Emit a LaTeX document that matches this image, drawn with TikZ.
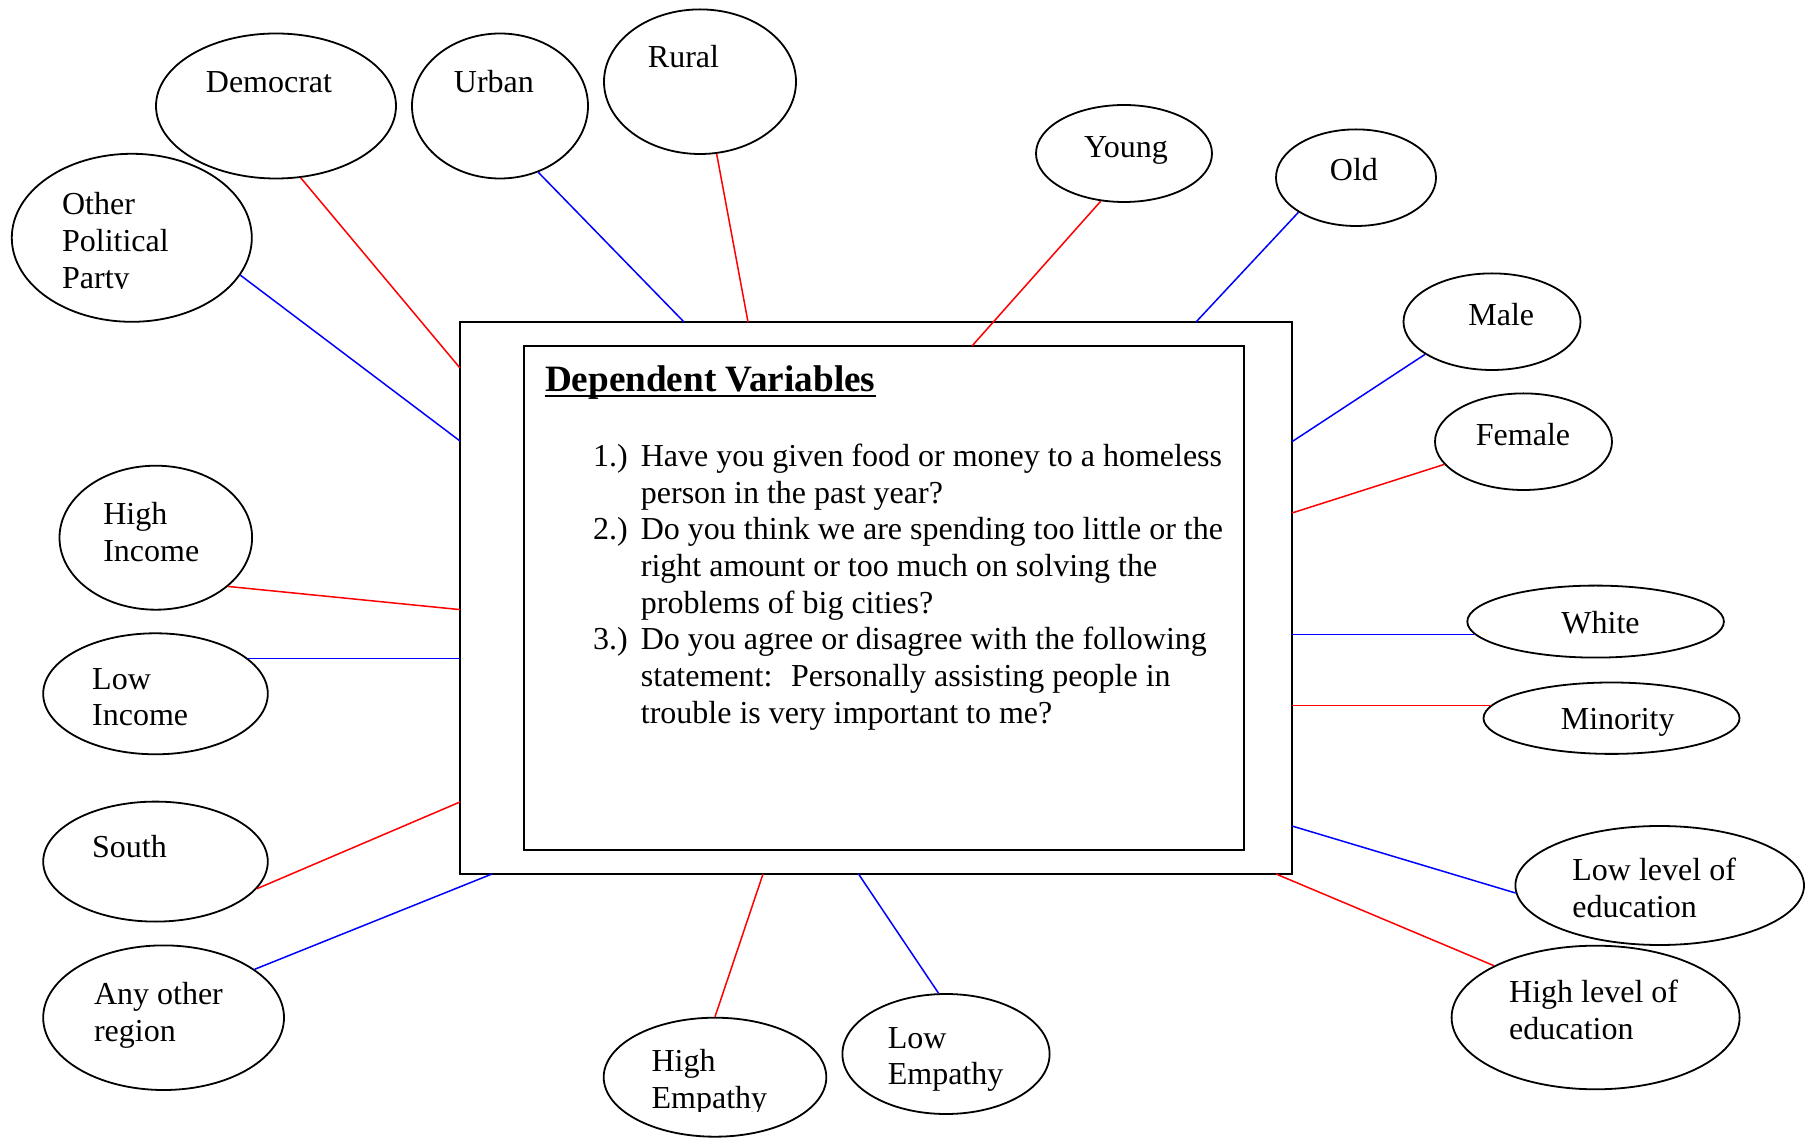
\documentclass[tikz,border=0pt]{standalone}
\usepackage{fontspec}
\setmainfont{Liberation Serif}
\usetikzlibrary{shapes.geometric}
\begin{document}
\begin{tikzpicture}[x=0.5pt,y=-0.5pt,
  oval/.style={draw, ellipse, line width=0.9pt, inner sep=0pt},
  lbl/.style={anchor=base west, inner sep=0pt, font=\fontsize{16}{18.3}\selectfont},
  redline/.style={draw=red, line width=0.75pt},
  blueline/.style={draw=blue, line width=0.75pt},
  box/.style={draw, inner sep=0pt}]
\useasboundingbox (0,0) rectangle (1811,1138);

% central boxes
\node[box, line width=0.9pt, minimum width=416pt, minimum height=276pt] (outer) at (876,598) {};
\node[box, line width=1.2pt, minimum width=360pt, minimum height=252pt] (inner) at (884,598) {};

\node[anchor=base west, inner sep=0pt, font=\fontsize{18.6}{20}\selectfont\bfseries] (title) at (544.6,391.4) {Dependent Variables};
\draw[line width=1pt] ([yshift=-2.2pt]title.base west) -- ([yshift=-2.2pt]title.base east);

\node[lbl, font=\fontsize{16}{18.35}\selectfont] (qs) at (592.8,466.4) {\vtop{%
\hbox{\hbox to 23.85pt{1.)\hss}Have you given food or money to a homeless}
\hbox{\hskip 23.85pt person in the past year?}
\hbox{\hbox to 23.85pt{2.)\hss}Do you think we are spending too little or the}
\hbox{\hskip 23.85pt right amount or too much on solving the}
\hbox{\hskip 23.85pt problems of big cities?}
\hbox{\hbox to 23.85pt{3.)\hss}Do you agree or disagree with the following}
\hbox{\hskip 23.85pt statement:\hspace{4pt} Personally assisting people in}
\hbox{\hskip 23.85pt trouble is very important to me?}}};

% ellipses
\node[oval, minimum width=120pt, minimum height=72.5pt] (dem) at (276,106) {};
\node[oval, minimum width=88pt, minimum height=72.5pt] (urban) at (500,106) {};
\node[oval, minimum width=96pt, minimum height=72.3pt] (rural) at (700,81.7) {};
\node[oval, minimum width=120pt, minimum height=84pt] (other) at (131.8,237.8) {};
\node[oval, minimum width=88pt, minimum height=48.5pt] (young) at (1124,153.5) {};
\node[oval, minimum width=80pt, minimum height=48.3pt] (old) at (1356,177.7) {};
\node[oval, minimum width=88.5pt, minimum height=48.3pt] (male) at (1492,321.7) {};
\node[oval, minimum width=88.5pt, minimum height=48.3pt] (female) at (1523.5,441.7) {};
\node[oval, minimum width=96.3pt, minimum height=72pt] (hinc) at (155.8,537.7) {};
\node[oval, minimum width=112.3pt, minimum height=60.5pt] (linc) at (155.5,693.8) {};
\node[oval, minimum width=112.3pt, minimum height=60pt] (south) at (155.5,861.6) {};
\node[oval, minimum width=120.4pt, minimum height=72.3pt] (anyreg) at (163.6,1017.7) {};
\node[oval, minimum width=128.3pt, minimum height=36pt] (white) at (1595.6,621.6) {};
\node[oval, minimum width=128pt, minimum height=35.7pt] (minority) at (1611.5,718.2) {};
\node[oval, minimum width=144.3pt, minimum height=59.5pt] (lowedu) at (1659.7,885.5) {};
\node[oval, minimum width=144pt, minimum height=71.8pt] (highedu) at (1595.6,1017.5) {};
\node[oval, minimum width=111.3pt, minimum height=59.5pt] (hemp) at (715,1077.2) {};
\node[oval, minimum width=103.6pt, minimum height=60pt] (lemp) at (946,1054) {};

% labels
\node[lbl] (tdem) at (205.5,92.7) {Democrat};
\node[lbl] (turban) at (453.5,92.7) {Urban};
\node[lbl] (trural) at (647.5,67.7) {Rural};
\begin{scope}
\clip (0,150) rectangle (300,288.5);
\node[lbl] (tother) at (61.7,215) {\vtop{\hbox{Other}\hbox{Political}\hbox{Party}}};
\end{scope}
\node[lbl] (tyoung) at (1083.6,157.7) {Young};
\node[lbl] (told) at (1329.5,181) {Old};
\node[lbl] (tmale) at (1468,325.7) {Male};
\node[lbl] (tfemale) at (1475.5,445.7) {Female};
\node[lbl] (thinc) at (102.9,524.6) {\vtop{\hbox{High}\hbox{Income}}};
\node[lbl] (tlinc) at (91.8,689.3) {\vtop{\hbox{Low}\hbox{Income}}};
\node[lbl] (tsouth) at (91.8,857.6) {South};
\node[lbl] (tanyreg) at (93.6,1004.6) {\vtop{\hbox{Any other}\hbox{region}}};
\node[lbl] (twhite) at (1561,633.2) {White};
\node[lbl] (tminority) at (1560.4,729.6) {Minority};
\node[lbl] (tlowedu) at (1572,880.4) {\vtop{\hbox{Low level of}\hbox{education}}};
\node[lbl] (thighedu) at (1508.8,1002.9) {\vtop{\hbox{High level of}\hbox{education}}};
\begin{scope}
\clip (600,1010) rectangle (830,1111.5);
\node[lbl] (themp) at (651.2,1071.7) {\vtop{\hbox{High}\hbox{Empathy}}};
\end{scope}
\node[lbl] (tlemp) at (887.4,1048.3) {\vtop{\hbox{Low}\hbox{Empathy}}};

% connector end points on the central box
\coordinate (eDem) at (460,368);
\coordinate (eOther) at (460,441);
\coordinate (eUrban) at (684,322);
\coordinate (eRural) at (748,322);
\coordinate (eYoung) at (972,346);
\coordinate (eOld) at (1196,322);
\coordinate (eMale) at (1292,441.7);
\coordinate (eFemale) at (1292,513);
\coordinate (eHinc) at (460,609.6);
\coordinate (eLeft) at (460,657.7);
\coordinate (eSouth) at (460,802);
\coordinate (eAnyreg) at (492,874);
\coordinate (eRight) at (1292,633.6);
\coordinate (eLowedu) at (1292,826);
\coordinate (eHighedu) at (1276,874);
\coordinate (eHemp) at (763,874);
\coordinate (eLemp) at (858.5,874);

% connectors
\draw[redline] (dem.-71.57) -- (eDem);
\draw[blueline] (other.-19.5) -- (eOther);
\draw[blueline] (urban.-60.8) -- (eUrban);
\draw[redline] (rural.-77.9) -- (eRural);
\draw[redline] (young.-116.8) -- (eYoung);
\draw[blueline] (old.-149.4) -- (eOld);
\draw[blueline] (male.-154.6) -- (eMale);
\draw[redline] (female.-164.6) -- (eFemale);
\draw[redline] (hinc.-34.2) -- (eHinc);
\draw[blueline] (linc.21.7) -- (linc.21.7 -| eLeft);
\draw[redline] (south.-15.2) -- (eSouth);
\draw[blueline] (anyreg.28.6) -- (eAnyreg);
\draw[blueline] (white.-174.4) -- (white.-174.4 -| eRight);
\draw[redline] (minority.174.2) -- (minority.174.2 -| eRight);
\draw[blueline] (lowedu.-177.1) -- (eLowedu);
\draw[redline] (highedu.153.6) -- (eHighedu);
\draw[redline] (hemp.90) -- (eHemp);
\draw[blueline] (lemp.97.5) -- (eLemp);
\end{tikzpicture}
\end{document}
